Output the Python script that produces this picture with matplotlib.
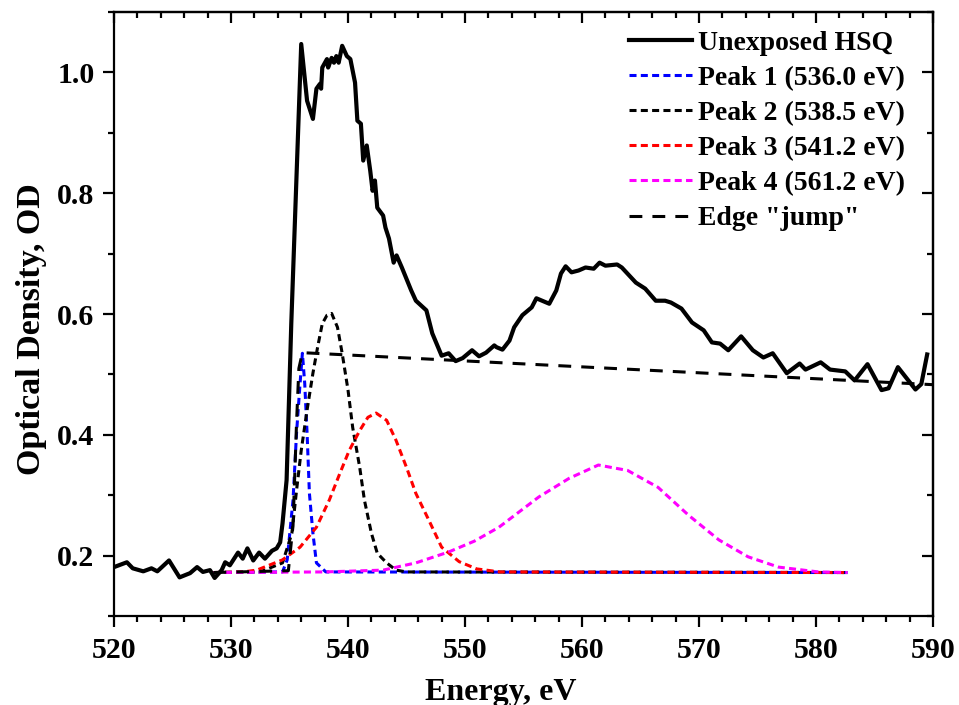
import matplotlib
matplotlib.use("Agg")
import matplotlib.pyplot as plt
from matplotlib.ticker import MultipleLocator, NullFormatter

# measured spectrum (Unexposed HSQ)
hsq_e = [520.0, 521.1, 521.6, 522.5, 523.2, 523.7, 524.7, 525.6, 526.5, 527.1,
         527.6, 528.2, 528.6, 529.2, 529.5, 529.9, 530.6, 531.0, 531.4, 531.9,
         532.4, 532.9, 533.5, 533.9, 534.2, 534.4, 534.75, 535.15, 536.0, 536.5,
         537.0, 537.3, 537.6, 537.7, 537.8, 538.2, 538.3, 538.6, 538.8, 539.0,
         539.2, 539.5, 539.9, 540.2, 540.6, 540.8, 541.1, 541.3, 541.6, 541.9,
         542.1, 542.3, 542.5, 543.0, 543.2, 543.5, 543.9, 544.15, 544.6, 545.4,
         545.8, 546.7, 547.2, 548.0, 548.6, 549.2, 549.8, 550.6, 551.2, 551.8,
         552.5, 552.7, 553.2, 553.8, 554.2, 554.9, 555.7, 556.1, 557.2, 557.8,
         558.2, 558.6, 559.1, 559.7, 560.3, 561.0, 561.5, 562.0, 563.0, 563.4,
         564.6, 565.4, 566.3, 567.1, 567.6, 568.5, 569.4, 570.4, 571.1, 571.8,
         572.5, 573.6, 574.6, 575.5, 576.3, 577.5, 578.6, 579.1, 580.4, 581.2,
         582.5, 583.3, 584.4, 585.6, 586.2, 587.0, 588.5, 589.0, 589.5]
hsq_od = [0.181, 0.189, 0.179, 0.174, 0.179, 0.174, 0.192, 0.164, 0.171, 0.181,
          0.173, 0.176, 0.163, 0.176, 0.189, 0.184, 0.205, 0.195, 0.212, 0.192,
          0.205, 0.195, 0.208, 0.212, 0.222, 0.253, 0.325, 0.584, 1.047, 0.953,
          0.923, 0.973, 0.981, 0.973, 1.008, 1.022, 1.008, 1.024, 1.016, 1.027,
          1.016, 1.044, 1.027, 1.022, 0.983, 0.920, 0.915, 0.854, 0.879, 0.837,
          0.804, 0.821, 0.776, 0.763, 0.743, 0.725, 0.685, 0.697, 0.677, 0.639,
          0.622, 0.606, 0.568, 0.531, 0.535, 0.522, 0.527, 0.540, 0.530, 0.536,
          0.548, 0.545, 0.541, 0.556, 0.578, 0.598, 0.611, 0.626, 0.617, 0.639,
          0.667, 0.679, 0.669, 0.672, 0.677, 0.675, 0.685, 0.680, 0.682, 0.677,
          0.652, 0.642, 0.622, 0.622, 0.619, 0.609, 0.586, 0.573, 0.553, 0.551,
          0.540, 0.563, 0.540, 0.528, 0.535, 0.502, 0.518, 0.508, 0.520, 0.508,
          0.505, 0.490, 0.517, 0.474, 0.477, 0.512, 0.475, 0.484, 0.533]

# fitted peaks
p1_e = [528.5, 534.4, 534.8, 535.3, 535.6, 535.9, 536.1, 536.3, 536.5, 536.7,
        537.0, 537.3, 538.1, 582.7]
p1_od = [0.172, 0.173, 0.193, 0.292, 0.403, 0.485, 0.535, 0.485, 0.403, 0.303,
         0.237, 0.188, 0.173, 0.172]

p2_e = [528.5, 532.5, 533.5, 534.4, 535.2, 535.6, 536.0, 536.5, 537.0, 537.4,
        537.8, 538.2, 538.6, 539.1, 539.5, 540.0, 540.4, 541.0, 541.4, 542.0,
        542.5, 543.3, 544.1, 545.0, 582.7]
p2_od = [0.172, 0.173, 0.181, 0.188, 0.237, 0.308, 0.374, 0.441, 0.502, 0.545,
         0.584, 0.598, 0.601, 0.578, 0.535, 0.474, 0.412, 0.346, 0.292, 0.237,
         0.204, 0.188, 0.176, 0.173, 0.172]

p3_e = [528.5, 531.0, 532.2, 534.4, 535.9, 537.3, 538.4, 539.3, 540.1, 541.0,
        541.7, 542.4, 543.3, 544.1, 545.0, 545.8, 546.9, 548.0, 549.5, 551.0,
        553.0, 582.7]
p3_od = [0.172, 0.173, 0.176, 0.193, 0.214, 0.247, 0.292, 0.336, 0.374, 0.407,
         0.429, 0.436, 0.424, 0.391, 0.346, 0.303, 0.259, 0.214, 0.190, 0.178,
         0.173, 0.172]

p4_e = [528.5, 538.0, 543.0, 545.8, 548.6, 550.8, 552.9, 554.6, 556.3, 558.9,
        561.4, 563.9, 566.5, 569.1, 571.7, 574.2, 576.8, 580.2, 582.7]
p4_od = [0.172, 0.173, 0.176, 0.188, 0.206, 0.224, 0.247, 0.272, 0.297, 0.328,
         0.350, 0.341, 0.313, 0.267, 0.226, 0.198, 0.181, 0.173, 0.172]

# edge "jump" step
edge_e = [528.5, 534.9, 535.3, 535.6, 535.8, 536.1, 590.0]
edge_od = [0.172, 0.175, 0.25, 0.42, 0.51, 0.536, 0.483]

labels = ["Unexposed HSQ", "Peak 1 (536.0 eV)", "Peak 2 (538.5 eV)",
          "Peak 3 (541.2 eV)", "Peak 4 (561.2 eV)", 'Edge "jump"']

plt.rcParams['font.family'] = 'Liberation Serif'
plt.rcParams['font.weight'] = 'bold'

fig = plt.figure(figsize=(9.59, 7.05), dpi=100)
ax = fig.add_axes([0.1189, 0.1262, 0.8540, 0.8568])

short = (2.3, 1.4)
lw_fit = 2.2
ax.plot(hsq_e, hsq_od, color='black', lw=3, label=labels[0], zorder=3)
ax.plot(p1_e, p1_od, color='blue', lw=lw_fit, dashes=short, label=labels[1])
ax.plot(p2_e, p2_od, color='black', lw=lw_fit, dashes=short, label=labels[2])
ax.plot(p3_e, p3_od, color='red', lw=lw_fit, dashes=short, label=labels[3])
ax.plot(p4_e, p4_od, color='magenta', lw=lw_fit, dashes=short, label=labels[4])
ax.plot(edge_e, edge_od, color='black', lw=lw_fit, dashes=(4.2, 3.3), label=labels[5])

ax.set_xlim(520, 590)
ax.set_ylim(0.1, 1.1)
ax.xaxis.set_major_locator(MultipleLocator(10))
ax.xaxis.set_minor_locator(MultipleLocator(2))
ax.yaxis.set_major_locator(MultipleLocator(0.2))
ax.yaxis.set_minor_locator(MultipleLocator(0.1))
ax.yaxis.set_major_formatter(lambda v, p: "%.1f" % v)

for s in ax.spines.values():
    s.set_linewidth(1.6)
ax.tick_params(which='both', direction='out', width=1.6, top=False, right=False,
               labelsize=21.5)
ax.tick_params(which='major', length=8)
ax.tick_params(which='minor', length=4.5)
ax.tick_params(axis='x', pad=7)
ax.tick_params(axis='y', pad=6)

top = ax.secondary_xaxis('top')
top.xaxis.set_major_locator(MultipleLocator(10))
top.xaxis.set_minor_locator(MultipleLocator(2))
top.xaxis.set_major_formatter(NullFormatter())
top.tick_params(which='both', direction='in', width=1.6)
top.tick_params(which='major', length=8)
top.tick_params(which='minor', length=4.5)

right = ax.secondary_yaxis('right')
right.yaxis.set_major_locator(MultipleLocator(0.2))
right.yaxis.set_minor_locator(MultipleLocator(0.1))
right.yaxis.set_major_formatter(NullFormatter())
right.tick_params(which='both', direction='in', width=1.6)
right.tick_params(which='major', length=8)
right.tick_params(which='minor', length=4.5)
for sec in (top, right):
    for s in sec.spines.values():
        s.set_linewidth(1.6)

ax.set_xlabel("Energy, eV", fontsize=23, fontweight='bold')
ax.set_ylabel("Optical Density, OD", fontsize=24.5, fontweight='bold')
ax.xaxis.set_label_coords(0.4725, -0.102)
ax.yaxis.set_label_coords(-0.082, 0.475)

ax.legend(loc='upper left', bbox_to_anchor=(0.629, 0.97), frameon=False,
          fontsize=20, handlelength=2.27, handletextpad=0.2, labelspacing=0.35,
          borderpad=0, borderaxespad=0)

fig.savefig("out.png", dpi=100)
